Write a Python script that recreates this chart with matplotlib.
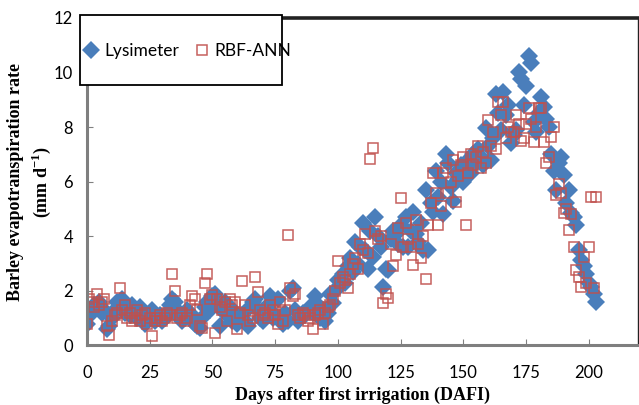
import numpy as np
import matplotlib.pyplot as plt
from matplotlib.patches import Rectangle

plt.rcParams.update({
    "font.family": ["Lato", "DejaVu Sans"],
    "font.size": 11,
    "xtick.direction": "in",
    "ytick.direction": "in",
    "mathtext.fontset": "custom",
    "mathtext.rm": "Liberation Serif",
    "mathtext.bf": "Liberation Serif:bold",
})

# daily ET (mm/d), day 0 .. 203 after first irrigation
days = np.arange(0, 204)

lysimeter = [
    0.8, 1.3, 1.2, 1.5, 1.4, 1.6, 1.2, 1.3, 0.6, 0.7,
    1.0, 1.3, 1.6, 1.5, 1.7, 1.2, 1.4, 1.1, 1.5, 1.3,
    1.0, 1.4, 1.2, 0.8, 0.9, 1.2, 1.3, 0.9, 1.0, 1.1,
    0.9, 1.0, 1.2, 1.5, 1.7, 1.6, 1.1, 1.2, 0.9, 1.0,
    1.3, 1.2, 1.0, 0.8, 0.7, 0.65, 1.0, 1.4, 1.6, 1.3,
    1.8, 1.9, 1.5, 0.7, 1.3, 1.6, 1.1, 1.4, 0.9, 1.2,
    0.8, 1.0, 1.1, 0.9, 0.7, 1.4, 1.6, 1.7, 1.3, 1.0,
    0.9, 1.2, 1.5, 1.8, 1.0, 1.1, 1.7, 1.0, 0.8, 1.2,
    0.9, 2.0, 2.1, 1.3, 0.9, 1.0, 1.2, 1.1, 1.3, 1.4,
    1.2, 1.8, 1.5, 1.0, 1.3, 0.9, 1.2, 1.9, 1.55, 2.0,
    2.4, 2.2, 2.6, 2.3, 2.9, 3.2, 2.7, 3.8, 3.0, 3.6,
    4.5, 3.5, 2.8, 4.2, 3.25, 4.7, 4.0, 3.6, 2.15, 2.8,
    2.77, 3.9, 4.2, 4.1, 3.7, 4.4, 3.6, 4.7, 3.6, 4.2,
    4.9, 4.1, 3.8, 4.5, 3.5, 5.7, 3.5, 5.2, 4.9, 6.4,
    5.45, 6.0, 4.8, 7.0, 6.7, 5.8, 5.3, 6.3, 6.1, 6.6,
    6.0, 6.4, 6.8, 6.3, 7.0, 6.7, 7.2, 6.9, 6.6, 7.97,
    7.3, 6.8, 7.6, 9.2, 8.5, 7.9, 9.3, 8.45, 8.8, 7.4,
    7.7, 7.9, 10.0, 9.75, 8.8, 9.5, 10.6, 10.35, 8.2, 7.8,
    8.5, 9.1, 8.75, 8.3, 8.0, 7.0, 6.4, 5.7, 6.7, 6.9,
    6.25, 5.2, 5.7, 4.85, 4.7, 4.4, 3.5, 3.13, 2.9, 2.6,
    2.3, 2.15, 1.9, 1.6,
]

rbf_ann = [
    0.8, 1.7, 1.6, 1.4, 1.9, 1.5, 1.6, 1.7, 0.7, 0.4,
    0.9, 1.1, 1.2, 2.1, 1.3, 1.5, 1.0, 1.2, 0.9, 1.0,
    1.3, 0.9, 1.1, 1.2, 0.8, 1.0, 0.35, 0.9, 1.0, 1.1,
    0.9, 1.0, 1.2, 1.1, 2.6, 2.0, 1.0, 1.1, 1.2, 0.9,
    1.0, 1.5, 1.8, 1.7, 1.3, 0.7, 0.65, 2.3, 2.6, 1.7,
    1.85, 0.45, 1.7, 1.4, 1.3, 1.6, 0.9, 1.7, 1.5, 1.6,
    0.6, 1.2, 2.35, 1.5, 1.1, 0.9, 1.0, 2.5, 1.95, 1.3,
    1.1, 1.2, 1.0, 1.5, 1.3, 1.1, 0.8, 1.6, 0.9, 1.3,
    4.05, 2.1, 1.8, 1.9, 1.1, 1.0, 1.2, 1.1, 0.9, 1.0,
    0.6, 1.1, 1.2, 1.3, 0.8, 1.2, 1.4, 1.5, 1.7, 2.0,
    3.1, 2.3, 2.5, 2.4, 2.1, 2.6, 3.0, 3.2, 2.8, 3.7,
    3.5, 4.1, 3.4, 6.84, 7.24, 4.2, 3.9, 4.0, 1.55, 1.9,
    1.75, 3.7, 2.9, 3.3, 4.3, 5.4, 3.6, 4.5, 3.9, 3.6,
    2.95, 4.6, 3.7, 3.2, 4.0, 2.45, 4.4, 5.2, 6.3, 5.6,
    4.4, 5.1, 6.3, 6.5, 5.6, 6.0, 6.8, 5.25, 6.2, 6.6,
    6.9, 4.4, 6.3, 7.0, 6.6, 6.9, 7.3, 6.5, 7.1, 6.7,
    8.27, 7.3, 7.8, 7.2, 8.9, 8.45, 8.9, 7.6, 8.0, 7.8,
    7.8, 8.45, 8.1, 7.5, 7.6, 8.1, 8.7, 8.3, 7.47, 8.0,
    8.7, 8.7, 7.47, 6.7, 6.9, 7.65, 8.0, 5.5, 5.9, 5.6,
    4.85, 5.0, 4.24, 4.8, 3.6, 2.77, 2.5, 2.15, 3.25, 2.3,
    3.6, 5.44, 2.1, 5.44,
]

xticks = [0, 25, 50, 75, 100, 125, 150, 175, 200]
yticks = [0, 2, 4, 6, 8, 10, 12]

fig = plt.figure(figsize=(6.39, 4.05), dpi=100)
ax = fig.add_axes([0.136, 0.147, 0.862, 0.809])

ax.plot(days, lysimeter, linestyle="none", marker="D", markersize=9,
        color="#4A7EBB", markeredgewidth=0, label="Lysimeter")
ax.plot(days, rbf_ann, linestyle="none", marker="s", markersize=7.5,
        markerfacecolor="none", markeredgecolor="#C0504D",
        markeredgewidth=1.1, alpha=0.9, label="RBF-ANN")

ax.set_xlim(0, 219.5)
ax.set_ylim(0, 12)
ax.set_xticks(xticks)
ax.set_yticks(yticks)
ax.tick_params(axis="x", length=4, pad=14, labelsize=12, color="#808080")
ax.tick_params(axis="y", length=4, pad=10, labelsize=12, color="#808080")

for side in ("left", "bottom"):
    ax.spines[side].set_color("#7f7f7f")
    ax.spines[side].set_linewidth(2.2)
ax.spines["top"].set_color("#222222")
ax.spines["top"].set_linewidth(2.6)
ax.spines["right"].set_color("#222222")
ax.spines["right"].set_linewidth(1.0)

ax.set_xlabel("Days after first irrigation (DAFI)", family="Liberation Serif",
              fontweight="bold", fontsize=13, labelpad=4.5)
ax.set_ylabel("Barley evapotranspiration rate\n(mm d$^{\\mathbf{-1}}$)",
              family="Liberation Serif", fontweight="bold", fontsize=13,
              linespacing=1.3)
ax.yaxis.set_label_coords(-0.062, 0.5)

# legend box drawn by hand so it can be taller than the entries
box = Rectangle((-0.013, 0.796), 0.368, 0.213, transform=ax.transAxes,
                facecolor="white", edgecolor="black", linewidth=1.3,
                clip_on=False, zorder=4)
ax.add_patch(box)
leg = ax.legend(loc="center left", bbox_to_anchor=(-0.005, 0.9), ncol=2,
                fontsize=12.5, frameon=False, borderpad=0,
                handlelength=0.8, handletextpad=0.35, columnspacing=0.9,
                borderaxespad=0)
leg.set_zorder(5)

fig.savefig("out.png", dpi=100)
